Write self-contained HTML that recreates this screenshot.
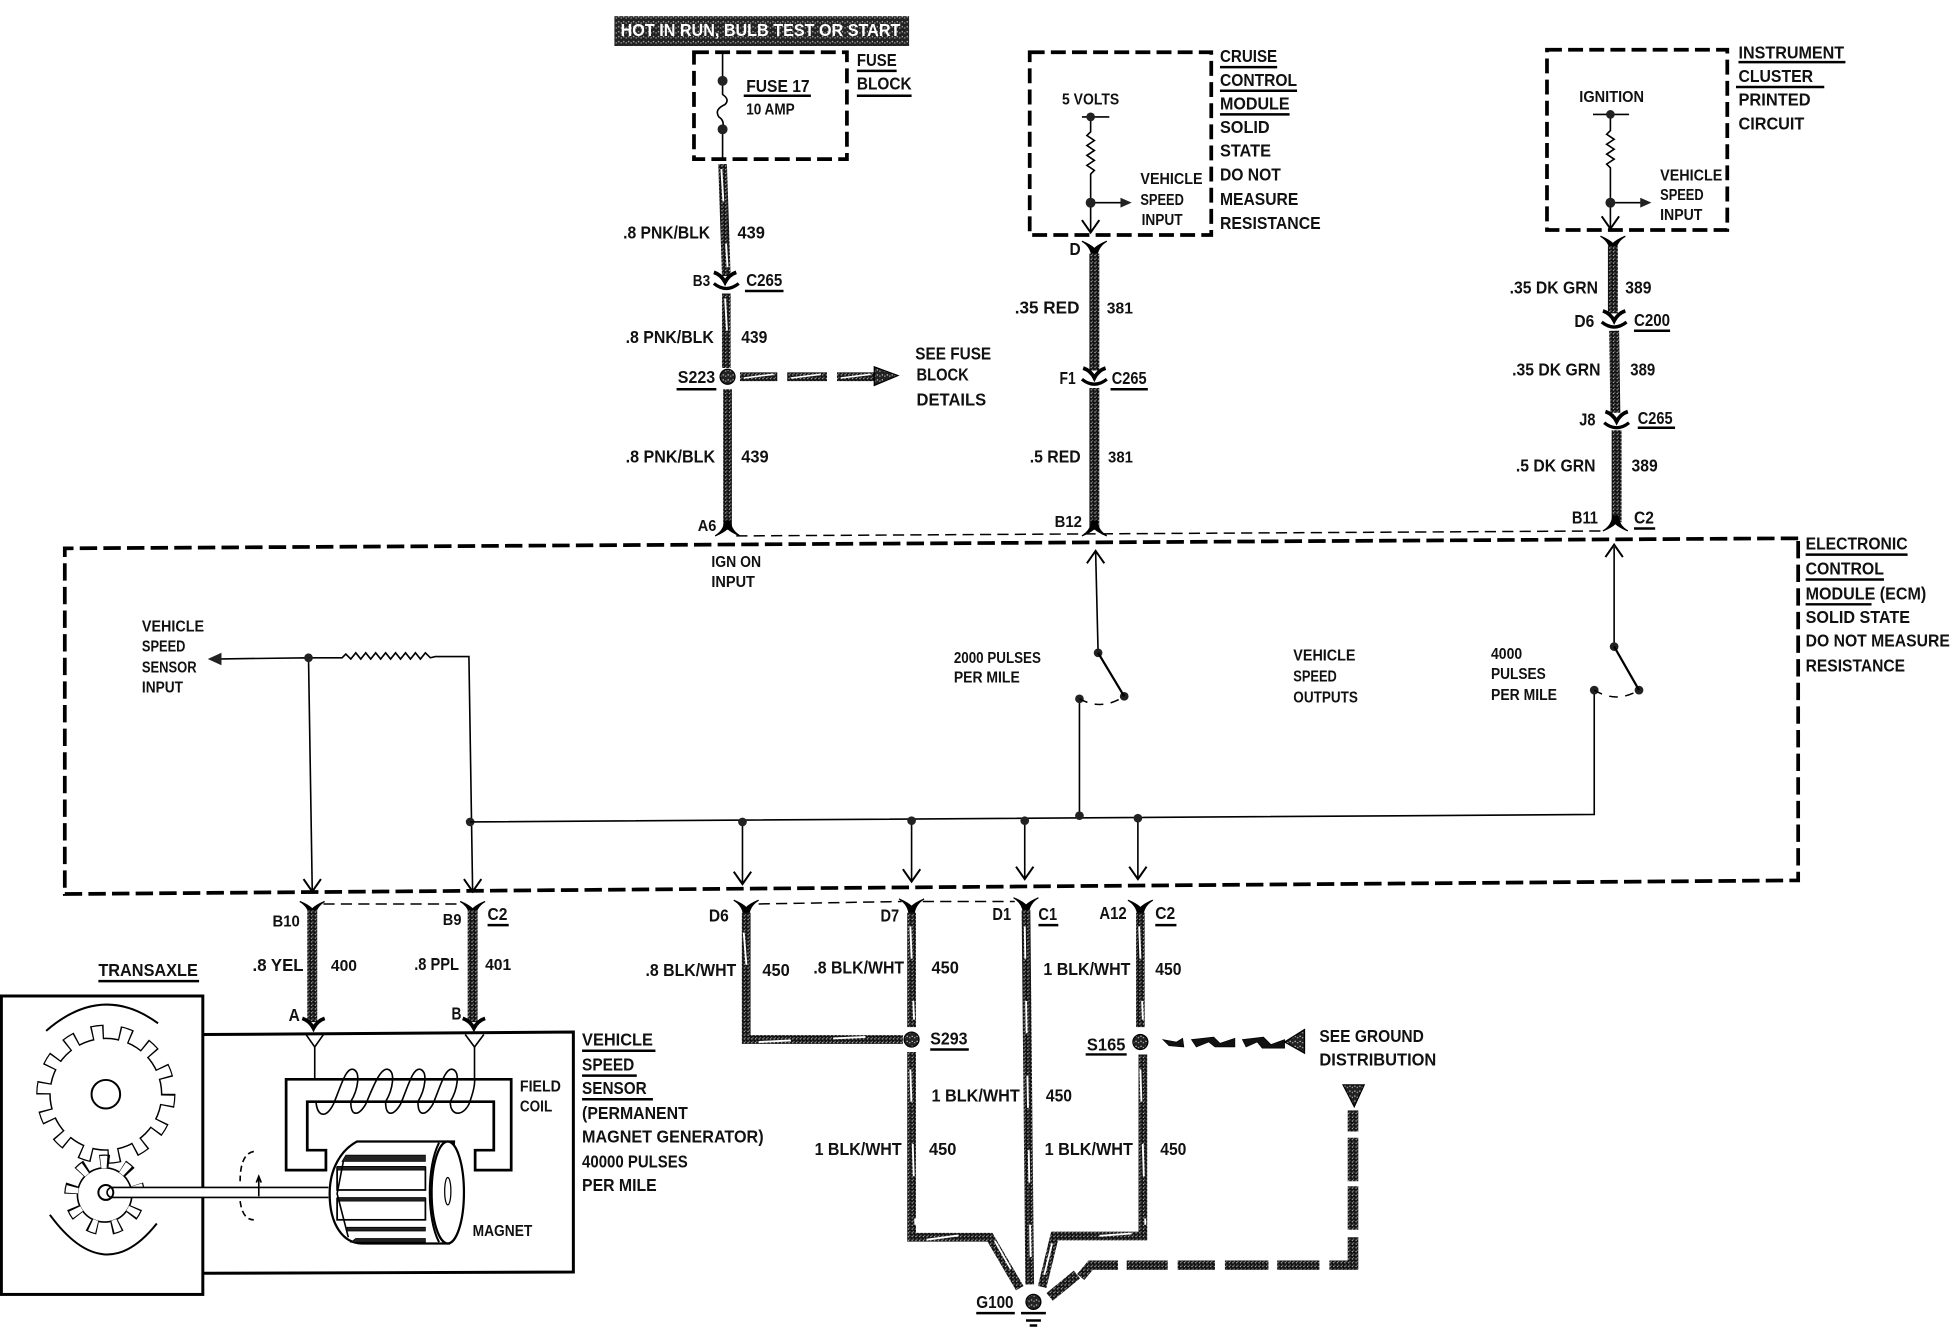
<!DOCTYPE html>
<html><head><meta charset="utf-8"><style>
html,body{margin:0;padding:0;background:#fff;width:1950px;height:1328px;overflow:hidden}
svg{display:block}
text{font-family:"Liberation Sans",sans-serif;font-weight:700;fill:#111}
.l{font-size:14px}.s{font-size:12.5px}
.f{fill:none;stroke:#000;stroke-width:1.3}
.b{fill:none;stroke:#000;stroke-width:3;stroke-dasharray:12 5}
.w{fill:none;stroke:url(#p);stroke-width:8}
.t{fill:none;stroke:url(#p);stroke-width:7}
.x{fill:none;stroke:#fff;stroke-width:1.5;stroke-dasharray:26 34}
.d{fill:none;stroke:#000;stroke-width:1.2;stroke-dasharray:9 5}
.u{fill:none;stroke:#000;stroke-width:2}
</style></head><body>
<svg width="1950" height="1328" viewBox="0 0 1568 1068" xmlns="http://www.w3.org/2000/svg">
<defs>
<pattern id="p" width="3" height="3" patternUnits="userSpaceOnUse"><rect width="3" height="3" fill="#111"/><rect x="1" y="1" width="1" height="1" fill="#bbb"/><rect x="2" y="0" width="1" height="1" fill="#777"/></pattern>
<pattern id="h" width="4" height="4" patternUnits="userSpaceOnUse"><rect width="4" height="4" fill="#222"/><rect x="1" y="1" width="1" height="1" fill="#ccc"/><rect x="3" y="2" width="1" height="1" fill="#aaa"/></pattern>
<g id="cu"><path d="M-9,-7 Q-3,-5 0,1 Q3,-5 9,-7" fill="none" stroke="#000" stroke-width="3"/></g>
<g id="cl"><path d="M-10,2 Q0,10 10,2" fill="none" stroke="#000" stroke-width="2.6"/></g>
<g id="ad"><path d="M-7,-10 L0,0 L7,-10" fill="none" stroke="#000" stroke-width="1.6"/></g>
<g id="au"><path d="M-7,10 L0,0 L7,10" fill="none" stroke="#000" stroke-width="1.6"/></g>
<g id="y"><path d="M-10,-5 Q-3,-1 -2,7 L2,7 Q3,-1 10,-5 Q3,-2 0,1 Q-3,-2 -10,-5Z" fill="#000" stroke="#000"/></g>
<g id="yi"><path d="M-10,5 Q-3,1 -2,-7 L2,-7 Q3,1 10,5 Q3,2 0,-1 Q-3,2 -10,5Z" fill="#000" stroke="#000"/></g>
</defs>
<rect width="1568" height="1068" fill="#fff"/>

<!-- header -->
<rect x="494" y="13" width="237" height="24" fill="url(#h)"/>
<text x="499" y="29" class="l" textLength="225" lengthAdjust="spacingAndGlyphs" style="fill:#fff">HOT IN RUN, BULB TEST OR START</text>

<!-- fuse block -->
<rect x="558" y="42" width="123" height="86" class="b"/>
<path d="M581,42V65M581,65V76Q587,80 583,84Q574,88 578,94Q583,97 581,104V128" class="f"/>
<circle cx="581" cy="65" r="4" fill="#222"/><circle cx="581" cy="104" r="4" fill="#222"/>
<text x="600" y="74" class="l" textLength="51" lengthAdjust="spacingAndGlyphs">FUSE 17</text>
<path d="M598,77H652" class="u"/>
<text x="600" y="92" class="s" textLength="39" lengthAdjust="spacingAndGlyphs">10 AMP</text>
<text x="689" y="53" class="l" textLength="32" lengthAdjust="spacingAndGlyphs">FUSE</text><path d="M689,57H721" class="u"/>
<text x="689" y="72" class="l" textLength="44" lengthAdjust="spacingAndGlyphs">BLOCK</text><path d="M689,77H733" class="u"/>

<!-- left vertical wire -->
<path d="M581,132L584,222" class="t"/><path d="M580,136L585,215" class="x"/>
<use href="#cu" x="583" y="226"/><use href="#cl" x="584" y="226"/>
<path d="M584,236V296" class="t"/><path d="M583,240L586,290" class="x"/>
<circle cx="585" cy="303" r="6" fill="url(#h)" stroke="#000"/>
<path d="M585,313V426" class="t"/>
<use href="#yi" x="585" y="426"/>
<path d="M595,303H625M633,303H665M673,303H704" fill="none" stroke="url(#p)" stroke-width="7"/>
<path d="M598,304L622,301M636,304L660,301M676,304L700,301" class="f" style="stroke:#fff"/>
<path d="M703,295L722,302L703,310Z" fill="url(#h)" stroke="#000"/>
<text x="501" y="192" class="l" textLength="70" lengthAdjust="spacingAndGlyphs">.8 PNK/BLK</text>
<text x="593" y="192" class="l" textLength="22" lengthAdjust="spacingAndGlyphs">439</text>
<text x="557" y="230" class="s" textLength="14" lengthAdjust="spacingAndGlyphs">B3</text>
<text x="600" y="230" class="l" textLength="29" lengthAdjust="spacingAndGlyphs">C265</text><path d="M599,234H630" class="u"/>
<text x="503" y="276" class="l" textLength="71" lengthAdjust="spacingAndGlyphs">.8 PNK/BLK</text>
<text x="596" y="276" class="l" textLength="21" lengthAdjust="spacingAndGlyphs">439</text>
<text x="545" y="308" class="l" textLength="30" lengthAdjust="spacingAndGlyphs">S223</text><path d="M544,313H576" class="u"/>
<text x="736" y="289" class="l" textLength="61" lengthAdjust="spacingAndGlyphs">SEE FUSE</text>
<text x="737" y="306" class="l" textLength="42" lengthAdjust="spacingAndGlyphs">BLOCK</text>
<text x="737" y="326" class="l" textLength="56" lengthAdjust="spacingAndGlyphs">DETAILS</text>
<text x="503" y="372" class="l" textLength="72" lengthAdjust="spacingAndGlyphs">.8 PNK/BLK</text>
<text x="596" y="372" class="l" textLength="22" lengthAdjust="spacingAndGlyphs">439</text>
<text x="561" y="427" class="s" textLength="15" lengthAdjust="spacingAndGlyphs">A6</text>
<text x="572" y="456" class="s" textLength="40" lengthAdjust="spacingAndGlyphs">IGN ON</text>
<text x="572" y="472" class="s" textLength="35" lengthAdjust="spacingAndGlyphs">INPUT</text>

<!-- cruise -->
<rect x="828" y="42" width="146" height="147" class="b"/>
<path d="M870,94H892M877,94V106L874,109L880,113L874,117L880,121L874,125L880,129L874,133L880,137L877,140V187M877,163H905" class="f"/>
<circle cx="877" cy="94" r="3.5" fill="#222"/><circle cx="877" cy="163" r="4" fill="#222"/>
<path d="M901,159L910,163L901,167Z" fill="#222"/><use href="#ad" x="877" y="187"/>
<text x="854" y="84" class="s" textLength="46" lengthAdjust="spacingAndGlyphs">5 VOLTS</text>
<text x="917" y="148" class="s" textLength="50" lengthAdjust="spacingAndGlyphs">VEHICLE</text>
<text x="917" y="165" class="s" textLength="35" lengthAdjust="spacingAndGlyphs">SPEED</text>
<text x="918" y="181" class="s" textLength="33" lengthAdjust="spacingAndGlyphs">INPUT</text>
<text x="981" y="50" class="l" textLength="46" lengthAdjust="spacingAndGlyphs">CRUISE</text><path d="M981,54H1027" class="u"/>
<text x="981" y="69" class="l" textLength="62" lengthAdjust="spacingAndGlyphs">CONTROL</text><path d="M981,73H1043" class="u"/>
<text x="981" y="88" class="l" textLength="56" lengthAdjust="spacingAndGlyphs">MODULE</text><path d="M981,92H1037" class="u"/>
<text x="981" y="107" class="l" textLength="40" lengthAdjust="spacingAndGlyphs">SOLID</text>
<text x="981" y="126" class="l" textLength="41" lengthAdjust="spacingAndGlyphs">STATE</text>
<text x="981" y="145" class="l" textLength="49" lengthAdjust="spacingAndGlyphs">DO NOT</text>
<text x="981" y="165" class="l" textLength="63" lengthAdjust="spacingAndGlyphs">MEASURE</text>
<text x="981" y="184" class="l" textLength="81" lengthAdjust="spacingAndGlyphs">RESISTANCE</text>
<use href="#y" x="880" y="199"/>
<path d="M880,204V298" class="w"/>
<use href="#cu" x="880" y="303"/><use href="#cl" x="880" y="303"/>
<path d="M880,312V426" class="w"/>
<use href="#yi" x="880" y="426"/>
<text x="860" y="205" class="l" textLength="9" lengthAdjust="spacingAndGlyphs">D</text>
<text x="816" y="252" class="l" textLength="52" lengthAdjust="spacingAndGlyphs">.35 RED</text>
<text x="890" y="252" class="s" textLength="21" lengthAdjust="spacingAndGlyphs">381</text>
<text x="852" y="309" class="l" textLength="13" lengthAdjust="spacingAndGlyphs">F1</text>
<text x="894" y="309" class="l" textLength="28" lengthAdjust="spacingAndGlyphs">C265</text><path d="M893,313H923" class="u"/>
<text x="828" y="372" class="l" textLength="41" lengthAdjust="spacingAndGlyphs">.5 RED</text>
<text x="891" y="372" class="s" textLength="20" lengthAdjust="spacingAndGlyphs">381</text>
<text x="848" y="424" class="s" textLength="22" lengthAdjust="spacingAndGlyphs">B12</text>

<!-- instrument cluster -->
<rect x="1244" y="40" width="145" height="145" class="b"/>
<path d="M1281,92H1310M1295,92V105L1292,108L1298,112L1292,116L1298,120L1292,124L1298,128L1292,132L1295,135V184M1295,163H1324" class="f"/>
<circle cx="1295" cy="92" r="3.5" fill="#222"/><circle cx="1295" cy="163" r="4" fill="#222"/>
<path d="M1319,159L1328,163L1319,167Z" fill="#222"/><use href="#ad" x="1295" y="184"/>
<text x="1270" y="82" class="s" textLength="52" lengthAdjust="spacingAndGlyphs">IGNITION</text>
<text x="1335" y="145" class="s" textLength="50" lengthAdjust="spacingAndGlyphs">VEHICLE</text>
<text x="1335" y="161" class="s" textLength="35" lengthAdjust="spacingAndGlyphs">SPEED</text>
<text x="1335" y="177" class="s" textLength="34" lengthAdjust="spacingAndGlyphs">INPUT</text>
<text x="1398" y="47" class="l" textLength="85" lengthAdjust="spacingAndGlyphs">INSTRUMENT</text><path d="M1398,50H1484" class="u"/>
<text x="1398" y="66" class="l" textLength="60" lengthAdjust="spacingAndGlyphs">CLUSTER</text><path d="M1396,70H1467" class="u"/>
<text x="1398" y="85" class="l" textLength="58" lengthAdjust="spacingAndGlyphs">PRINTED</text>
<text x="1398" y="104" class="l" textLength="53" lengthAdjust="spacingAndGlyphs">CIRCUIT</text>
<use href="#y" x="1297" y="195"/>
<path d="M1297,198V252" class="w"/>
<use href="#cu" x="1298" y="257"/><use href="#cl" x="1298" y="257"/>
<path d="M1298,266L1299,332" class="w"/>
<use href="#cu" x="1300" y="338"/><use href="#cl" x="1300" y="338"/>
<path d="M1300,346V420" class="w"/>
<use href="#yi" x="1299" y="422"/>
<text x="1214" y="236" class="l" textLength="71" lengthAdjust="spacingAndGlyphs">.35 DK GRN</text>
<text x="1307" y="236" class="l" textLength="21" lengthAdjust="spacingAndGlyphs">389</text>
<text x="1266" y="263" class="l" textLength="16" lengthAdjust="spacingAndGlyphs">D6</text>
<text x="1314" y="262" class="l" textLength="29" lengthAdjust="spacingAndGlyphs">C200</text><path d="M1314,266H1343" class="u"/>
<text x="1216" y="302" class="l" textLength="71" lengthAdjust="spacingAndGlyphs">.35 DK GRN</text>
<text x="1311" y="302" class="l" textLength="20" lengthAdjust="spacingAndGlyphs">389</text>
<text x="1270" y="342" class="l" textLength="13" lengthAdjust="spacingAndGlyphs">J8</text>
<text x="1317" y="341" class="l" textLength="28" lengthAdjust="spacingAndGlyphs">C265</text><path d="M1317,344H1347" class="u"/>
<text x="1219" y="379" class="l" textLength="64" lengthAdjust="spacingAndGlyphs">.5 DK GRN</text>
<text x="1312" y="379" class="l" textLength="21" lengthAdjust="spacingAndGlyphs">389</text>
<text x="1264" y="421" class="l" textLength="21" lengthAdjust="spacingAndGlyphs">B11</text>
<text x="1314" y="421" class="l" textLength="16" lengthAdjust="spacingAndGlyphs">C2</text><path d="M1314,425H1331" class="u"/>

<!-- ECM box -->
<path d="M1446,433H1430L52,441V719L1446,708V433" class="b" style="stroke-dasharray:14 5"/>
<path d="M592,431L1290,427" class="d"/>
<text x="1452" y="442" class="l" textLength="82" lengthAdjust="spacingAndGlyphs">ELECTRONIC</text><path d="M1452,446H1534" class="u"/>
<text x="1452" y="462" class="l" textLength="63" lengthAdjust="spacingAndGlyphs">CONTROL</text><path d="M1452,466H1515" class="u"/>
<text x="1452" y="482" class="l" textLength="97" lengthAdjust="spacingAndGlyphs">MODULE (ECM)</text><path d="M1452,486H1505" class="u"/>
<text x="1452" y="501" class="l" textLength="84" lengthAdjust="spacingAndGlyphs">SOLID STATE</text>
<text x="1452" y="520" class="l" textLength="116" lengthAdjust="spacingAndGlyphs">DO NOT MEASURE</text>
<text x="1452" y="540" class="l" textLength="80" lengthAdjust="spacingAndGlyphs">RESISTANCE</text>

<text x="114" y="508" class="s" textLength="50" lengthAdjust="spacingAndGlyphs">VEHICLE</text>
<text x="114" y="524" class="s" textLength="35" lengthAdjust="spacingAndGlyphs">SPEED</text>
<text x="114" y="541" class="s" textLength="44" lengthAdjust="spacingAndGlyphs">SENSOR</text>
<text x="114" y="557" class="s" textLength="33" lengthAdjust="spacingAndGlyphs">INPUT</text>
<path d="M172,530L248,529H275L278,526L282,530L286,525L290,530L294,525L298,530L302,525L306,530L310,525L314,530L318,525L322,530L326,525L330,530L334,525L338,530L342,525L346,529L350,528H377L380,718M248,529L251,716" class="f"/>
<path d="M178,525L167,530L178,535Z" fill="#222"/>
<circle cx="248" cy="529" r="3.5" fill="#222"/>
<circle cx="378" cy="661" r="3.5" fill="#222"/>
<use href="#ad" x="251" y="717"/><use href="#ad" x="380" y="717"/>
<path d="M378,661L1282,655V555" class="f"/>
<path d="M597,661V711M733,660V709M824,660V707M915,658V707M868,656V562M881,443L883,525M1298,440V520" class="f"/>
<use href="#ad" x="597" y="711"/><use href="#ad" x="733" y="709"/><use href="#ad" x="824" y="707"/><use href="#ad" x="915" y="707"/>
<use href="#au" x="881" y="443"/><use href="#au" x="1298" y="438"/>
<g fill="#222"><circle cx="597" cy="661" r="3.5"/><circle cx="733" cy="660" r="3.5"/><circle cx="824" cy="660" r="3.5"/><circle cx="868" cy="656" r="3.5"/><circle cx="915" cy="658" r="3.5"/><circle cx="883" cy="525" r="3.5"/><circle cx="904" cy="560" r="3.5"/><circle cx="868" cy="562" r="3.5"/><circle cx="1298" cy="520" r="3.5"/><circle cx="1318" cy="555" r="3.5"/><circle cx="1282" cy="555" r="3.5"/></g>
<path d="M883,525L904,560M1298,520L1318,555" fill="none" stroke="#000" stroke-width="1.8"/>
<path d="M868,562Q886,572 904,560M1282,555Q1300,566 1318,555" class="d" style="stroke-dasharray:7 6"/>
<text x="767" y="533" class="s" textLength="70" lengthAdjust="spacingAndGlyphs">2000 PULSES</text>
<text x="767" y="549" class="s" textLength="53" lengthAdjust="spacingAndGlyphs">PER MILE</text>
<text x="1040" y="531" class="s" textLength="50" lengthAdjust="spacingAndGlyphs">VEHICLE</text>
<text x="1040" y="548" class="s" textLength="35" lengthAdjust="spacingAndGlyphs">SPEED</text>
<text x="1040" y="565" class="s" textLength="52" lengthAdjust="spacingAndGlyphs">OUTPUTS</text>
<text x="1199" y="530" class="s" textLength="25" lengthAdjust="spacingAndGlyphs">4000</text>
<text x="1199" y="546" class="s" textLength="44" lengthAdjust="spacingAndGlyphs">PULSES</text>
<text x="1199" y="563" class="s" textLength="53" lengthAdjust="spacingAndGlyphs">PER MILE</text>

<!-- bottom connectors -->
<path d="M260,727H372M610,727L725,725M742,725H816" class="d"/>
<use href="#y" x="251" y="730"/><use href="#y" x="380" y="730"/><use href="#y" x="600" y="729"/><use href="#y" x="733" y="728"/><use href="#y" x="825" y="727"/><use href="#y" x="917" y="729"/>
<text x="219" y="745" class="s" textLength="22" lengthAdjust="spacingAndGlyphs">B10</text>
<text x="356" y="744" class="s" textLength="15" lengthAdjust="spacingAndGlyphs">B9</text>
<text x="392" y="740" class="l" textLength="16" lengthAdjust="spacingAndGlyphs">C2</text><path d="M392,744H409" class="u"/>
<text x="570" y="741" class="l" textLength="16" lengthAdjust="spacingAndGlyphs">D6</text>
<text x="708" y="741" class="l" textLength="15" lengthAdjust="spacingAndGlyphs">D7</text>
<text x="798" y="740" class="l" textLength="15" lengthAdjust="spacingAndGlyphs">D1</text>
<text x="835" y="740" class="l" textLength="15" lengthAdjust="spacingAndGlyphs">C1</text><path d="M835,744H851" class="u"/>
<text x="884" y="739" class="l" textLength="22" lengthAdjust="spacingAndGlyphs">A12</text>
<text x="929" y="739" class="l" textLength="16" lengthAdjust="spacingAndGlyphs">C2</text><path d="M929,744H946" class="u"/>

<!-- lower wires -->
<path d="M251,732V822M380,732V822" class="w"/>
<use href="#cu" x="252" y="826"/><use href="#cu" x="381" y="826"/>
<path d="M600,734V836H726" class="t"/><path d="M598,750L603,810M610,838L716,833" class="x"/>
<path d="M733,734V826" class="t"/><path d="M732,745L735,820" class="x"/>
<path d="M733,846V995H796L820,1036" class="t"/><path d="M732,860L736,985M745,997L790,991M800,998L817,1028" class="x"/>
<path d="M825,732L828,1033" class="t"/><path d="M824,745L829,1025" class="x"/>
<path d="M917,734V826" class="t"/><path d="M916,745L919,820" class="x"/>
<path d="M919,848V994H848L838,1035" class="t"/><path d="M917,860L921,985M910,992L855,996M846,1000L839,1028" class="x"/>
<path d="M844,1043L866,1025" fill="none" stroke="url(#p)" stroke-width="8"/>
<path d="M869,1027L877,1017.5H899M906,1017.5H939M947,1017.5H977M985,1017.5H1020M1027,1017.5H1061M1069,1017.5H1092" fill="none" stroke="url(#p)" stroke-width="7.5"/>
<path d="M1088,1021V995M1088,989V954M1088,950V915M1088,910V893" fill="none" stroke="url(#p)" stroke-width="8.5"/>
<path d="M1080,872.5H1097L1089,890Z" fill="url(#h)" stroke="#000"/>
<circle cx="733" cy="836" r="6" fill="url(#h)" stroke="#000"/><circle cx="917" cy="838" r="6" fill="url(#h)" stroke="#000"/>
<path d="M935,836L946,838L951,835L952,842L940,841ZM958,836L976,834L981,839L993,835V842L977,842L972,838L962,842ZM999,836L1016,834L1022,840L1033,836V843L1015,843L1011,838L1002,842Z" fill="#111" stroke="#000" stroke-width=".5"/>
<path d="M1049,828L1033,838L1049,847Z" fill="url(#h)" stroke="#000"/>
<circle cx="831" cy="1047" r="6" fill="url(#h)" stroke="#000"/>
<path d="M821,1056H841M825,1062H837M828,1066H834" fill="none" stroke="#000" stroke-width="2"/>
<text x="203" y="781" class="l" textLength="41" lengthAdjust="spacingAndGlyphs">.8 YEL</text>
<text x="266" y="781" class="s" textLength="21" lengthAdjust="spacingAndGlyphs">400</text>
<text x="333" y="780" class="l" textLength="36" lengthAdjust="spacingAndGlyphs">.8 PPL</text>
<text x="390" y="780" class="s" textLength="21" lengthAdjust="spacingAndGlyphs">401</text>
<text x="232" y="821" class="l" textLength="9" lengthAdjust="spacingAndGlyphs">A</text>
<text x="363" y="820" class="l" textLength="8" lengthAdjust="spacingAndGlyphs">B</text>
<text x="519" y="785" class="l" textLength="73" lengthAdjust="spacingAndGlyphs">.8 BLK/WHT</text>
<text x="613" y="785" class="l" textLength="22" lengthAdjust="spacingAndGlyphs">450</text>
<text x="654" y="783" class="l" textLength="73" lengthAdjust="spacingAndGlyphs">.8 BLK/WHT</text>
<text x="749" y="783" class="l" textLength="22" lengthAdjust="spacingAndGlyphs">450</text>
<text x="839" y="784" class="l" textLength="70" lengthAdjust="spacingAndGlyphs">1 BLK/WHT</text>
<text x="929" y="784" class="l" textLength="21" lengthAdjust="spacingAndGlyphs">450</text>
<text x="748" y="840" class="l" textLength="30" lengthAdjust="spacingAndGlyphs">S293</text><path d="M748,844H779" class="u"/>
<text x="874" y="845" class="l" textLength="31" lengthAdjust="spacingAndGlyphs">S165</text><path d="M873,848H906" class="u"/>
<text x="1061" y="838" class="l" textLength="84" lengthAdjust="spacingAndGlyphs">SEE GROUND</text>
<text x="1061" y="857" class="l" textLength="94" lengthAdjust="spacingAndGlyphs">DISTRIBUTION</text>
<text x="749" y="886" class="l" textLength="71" lengthAdjust="spacingAndGlyphs">1 BLK/WHT</text>
<text x="841" y="886" class="l" textLength="21" lengthAdjust="spacingAndGlyphs">450</text>
<text x="655" y="929" class="l" textLength="70" lengthAdjust="spacingAndGlyphs">1 BLK/WHT</text>
<text x="747" y="929" class="l" textLength="22" lengthAdjust="spacingAndGlyphs">450</text>
<text x="840" y="929" class="l" textLength="71" lengthAdjust="spacingAndGlyphs">1 BLK/WHT</text>
<text x="933" y="929" class="l" textLength="21" lengthAdjust="spacingAndGlyphs">450</text>
<text x="785" y="1052" class="l" textLength="30" lengthAdjust="spacingAndGlyphs">G100</text><path d="M785,1056H816" class="u"/>

<!-- transaxle -->
<text x="79" y="785" class="l" textLength="80" lengthAdjust="spacingAndGlyphs">TRANSAXLE</text><path d="M79,789H160" class="u"/>
<rect x="1" y="801" width="162" height="240" fill="none" stroke="#000" stroke-width="2.4"/>
<path d="M163,832L461,830V1023L163,1024" fill="none" stroke="#000" stroke-width="2.4"/>
<text x="468" y="841" class="l" textLength="57" lengthAdjust="spacingAndGlyphs">VEHICLE</text><path d="M468,845H527" class="u"/>
<text x="468" y="861" class="l" textLength="42" lengthAdjust="spacingAndGlyphs">SPEED</text><path d="M468,865H512" class="u"/>
<text x="468" y="880" class="l" textLength="52" lengthAdjust="spacingAndGlyphs">SENSOR</text><path d="M468,884H525" class="u"/>
<text x="468" y="900" class="l" textLength="85" lengthAdjust="spacingAndGlyphs">(PERMANENT</text>
<text x="468" y="919" class="l" textLength="146" lengthAdjust="spacingAndGlyphs">MAGNET GENERATOR)</text>
<text x="468" y="939" class="l" textLength="85" lengthAdjust="spacingAndGlyphs">40000 PULSES</text>
<text x="468" y="958" class="l" textLength="60" lengthAdjust="spacingAndGlyphs">PER MILE</text>
<text x="418" y="878" class="s" textLength="33" lengthAdjust="spacingAndGlyphs">FIELD</text>
<text x="418" y="894" class="s" textLength="26" lengthAdjust="spacingAndGlyphs">COIL</text>
<text x="380" y="994" class="s" textLength="48" lengthAdjust="spacingAndGlyphs">MAGNET</text>

<!-- big gear -->
<circle cx="85" cy="880" r="45.5" fill="#000"/>
<circle cx="85" cy="880" r="50.5" fill="none" stroke="#000" stroke-width="11" pathLength="140" stroke-dasharray="4.4 5.6"/>
<circle cx="85" cy="880" r="44.3" fill="#fff"/>
<circle cx="85" cy="880" r="49.5" fill="none" stroke="#fff" stroke-width="11" pathLength="140" stroke-dasharray="3.4 6.6" stroke-dashoffset="-0.5"/>
<circle cx="85" cy="880" r="11.5" fill="#fff" stroke="#000" stroke-width="1.6"/>
<!-- small gear -->
<circle cx="84" cy="961" r="22.5" fill="#000"/>
<circle cx="84" cy="961" r="27.5" fill="none" stroke="#000" stroke-width="10" pathLength="90" stroke-dasharray="4 6" stroke-dashoffset="-5.5"/>
<circle cx="84" cy="961" r="21.2" fill="#fff"/>
<circle cx="84" cy="961" r="26.5" fill="none" stroke="#fff" stroke-width="10" pathLength="90" stroke-dasharray="2.8 7.2" stroke-dashoffset="-6.1"/>
<path d="M37,829Q82,790 127,823M40,977Q84,1037 126,984" class="f" style="stroke-width:1.6"/>
<!-- shaft -->
<path d="M264,955H90A4,4 0 0 0 90,963H264" fill="#fff" stroke="#000" stroke-width="1.3"/>
<circle cx="85" cy="959" r="6" fill="none" stroke="#000" stroke-width="1.6"/>
<path d="M204,926Q193,928 193,950M193,966Q195,981 204,981" class="f" style="stroke-dasharray:5 3"/>
<path d="M208,962V948M206,951L208,946L210,951" class="f"/>

<!-- field core -->
<path d="M230,868H411V941H382V925H397V886H247V925H262V941H230Z" fill="#fff" stroke="#000" stroke-width="2.2"/>
<path d="M253,842V868M381.5,842V868" class="f"/>
<path d="M246,832L253,842L260,832M374,832L381.5,842L389,832" class="f"/>
<path d="M254,886C255,898 262,900 268,888C274,874 278,858 284,860C290,862 288,876 282,886C282,898 288,898 294,888C300,874 306,858 312,860C318,862 316,876 310,886C310,898 316,898 322,888C328,874 332,858 338,860C344,862 342,876 336,886C336,898 342,898 348,888C354,874 358,858 364,860C370,862 368,876 362,886C362,898 372,898 377,888C380,880 382,872 381.5,868" fill="none" stroke="#000" stroke-width="1.3"/>

<!-- magnet -->
<path d="M287,918H365L361,1000H291C276,1000 265,985 265,960C265,940 274,925 287,918Z" fill="#fff" stroke="#000" stroke-width="1.8"/>
<rect x="271" y="939" width="71" height="18" fill="#fff" stroke="#000" stroke-width="1.4"/>
<rect x="271" y="964" width="71" height="17" fill="#fff" stroke="#000" stroke-width="1.4"/>
<path d="M275,934H342V929H278ZM271,941H342V938H271ZM271,966H342V963H271ZM279,990H342V987H279ZM282,999H342V996H286Z" fill="#222" stroke="#000" stroke-width=".6"/>
<path d="M276,934L271,960L280,995" class="f"/>
<ellipse cx="360" cy="959" rx="13" ry="41" fill="#fff" stroke="#000" stroke-width="1.8"/>
<path d="M353,919C343,938 343,980 353,999" class="f" style="stroke-width:1.6"/>
<ellipse cx="360" cy="958" rx="2.5" ry="11" fill="#fff" stroke="#000"/>
</svg>
</body></html>
